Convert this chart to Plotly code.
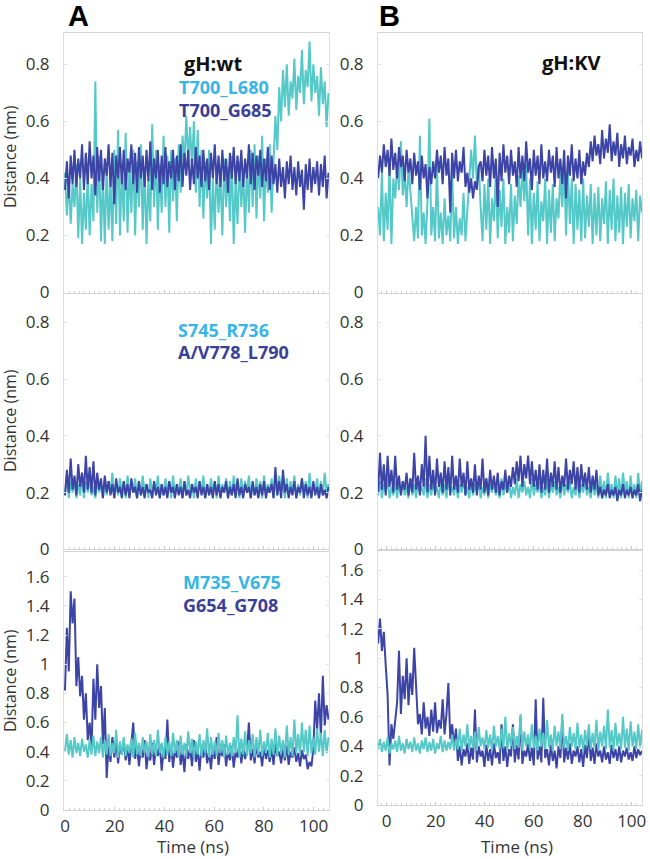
import plotly.graph_objects as go

W, H = 650, 859
# the page body normally keeps an 8px margin; the post script below removes it
OFF = 0

CYAN = '#55C8C8'
BLUE = '#3C44A6'
CYAN_TXT = '#35B6E6'
BLUE_TXT = '#3A3F99'

# simulation time window covered by the traces (ns)
T_A = (0.0, 106.0)
T_B = (-3.5, 104.2)

# ---- row 1: T700_L680 (cyan) / T700_G685 (blue)
a1_cyan = [0.42, 0.27, 0.40, 0.24, 0.38,
           0.30, 0.45, 0.19, 0.40, 0.17, 0.35, 0.22,
           0.42, 0.20, 0.38, 0.25,
           0.74, 0.28,
           0.48, 0.18, 0.42, 0.17, 0.45, 0.22, 0.40, 0.18, 0.50,
           0.24, 0.57, 0.20, 0.44, 0.25, 0.56, 0.21, 0.45,
           0.28, 0.50, 0.20, 0.46, 0.30, 0.52, 0.22, 0.44,
           0.17, 0.40, 0.25, 0.59, 0.30,
           0.50, 0.22, 0.45, 0.28, 0.55, 0.30, 0.48, 0.21, 0.50, 0.32, 0.47, 0.25, 0.52, 0.35,
           0.55, 0.45, 0.62, 0.46, 0.58, 0.44, 0.60,
           0.35, 0.57, 0.30, 0.50, 0.26, 0.46, 0.33, 0.50,
           0.17, 0.40, 0.22, 0.45, 0.28, 0.42, 0.20, 0.47, 0.30, 0.44, 0.25, 0.48, 0.17, 0.40,
           0.24, 0.46, 0.30, 0.43, 0.21, 0.45, 0.28, 0.50,
           0.30, 0.52, 0.26, 0.48, 0.33, 0.55, 0.25, 0.47, 0.35, 0.52, 0.28, 0.46,
           0.62, 0.50, 0.72,
           0.60, 0.78, 0.65, 0.80, 0.62, 0.74, 0.68, 0.82, 0.64, 0.76, 0.70, 0.85, 0.66, 0.78,
           0.72, 0.88, 0.67, 0.80, 0.70, 0.76, 0.62, 0.79, 0.66, 0.74, 0.58, 0.70]
a1_blue = [0.36, 0.46, 0.33, 0.48, 0.38, 0.50, 0.37, 0.47, 0.40, 0.52, 0.36,
           0.49, 0.38, 0.53, 0.40, 0.48, 0.34, 0.51, 0.39, 0.50, 0.36, 0.47, 0.41, 0.52, 0.37,
           0.49, 0.31, 0.48, 0.40, 0.51, 0.38,
           0.50, 0.36, 0.47, 0.42, 0.52, 0.38, 0.49, 0.35, 0.51, 0.40, 0.48, 0.37, 0.50, 0.39,
           0.53, 0.36, 0.47, 0.40, 0.50, 0.35,
           0.48, 0.38, 0.51, 0.37, 0.46, 0.40, 0.50, 0.36, 0.48, 0.39, 0.52, 0.37, 0.49, 0.41,
           0.50, 0.36, 0.47, 0.38, 0.51, 0.40,
           0.48, 0.37, 0.50, 0.39, 0.47, 0.36, 0.49, 0.40, 0.52, 0.38, 0.48, 0.37, 0.50, 0.39,
           0.47, 0.35, 0.49, 0.40, 0.51, 0.38,
           0.48, 0.39, 0.50, 0.37, 0.47, 0.40, 0.52, 0.38, 0.49, 0.36, 0.48, 0.41, 0.50, 0.37,
           0.47, 0.39, 0.51, 0.36, 0.48, 0.38,
           0.45, 0.35, 0.47, 0.37, 0.44, 0.33, 0.46, 0.38, 0.48, 0.36, 0.44, 0.34, 0.46, 0.37,
           0.43, 0.29, 0.45, 0.36, 0.47, 0.35, 0.44, 0.38, 0.46, 0.34, 0.45, 0.37, 0.48, 0.33, 0.42]
b1_cyan = [0.30, 0.20, 0.42, 0.18, 0.35, 0.22, 0.45, 0.17,
           0.40, 0.33, 0.45, 0.36, 0.53, 0.34, 0.42, 0.30, 0.44, 0.35,
           0.25, 0.18, 0.30, 0.19, 0.55, 0.20, 0.28, 0.17, 0.32, 0.61,
           0.20, 0.30, 0.18, 0.45, 0.19, 0.28, 0.17, 0.33, 0.20, 0.27, 0.18, 0.42, 0.19, 0.30,
           0.17, 0.26, 0.20, 0.35, 0.18, 0.29,
           0.42, 0.50, 0.40, 0.55, 0.38, 0.45, 0.30,
           0.18, 0.38, 0.22, 0.40, 0.17, 0.33, 0.25, 0.42, 0.19, 0.36, 0.23, 0.40, 0.17, 0.30,
           0.21, 0.38, 0.18, 0.34, 0.24, 0.41,
           0.30, 0.44, 0.32, 0.45, 0.20, 0.40, 0.17, 0.35, 0.22, 0.39, 0.18, 0.32, 0.25, 0.40,
           0.17, 0.36, 0.21, 0.38, 0.18, 0.33,
           0.26, 0.42, 0.30, 0.45, 0.20, 0.43, 0.24, 0.40, 0.17, 0.38, 0.22, 0.36, 0.18, 0.40,
           0.19, 0.34, 0.23, 0.38, 0.17, 0.35,
           0.20, 0.37, 0.18, 0.33, 0.24, 0.39, 0.17, 0.36, 0.22, 0.40, 0.18, 0.34, 0.21, 0.37,
           0.17, 0.35, 0.23, 0.38, 0.19, 0.33,
           0.25, 0.36, 0.18, 0.34, 0.28]
b1_blue = [0.40, 0.48, 0.42, 0.52, 0.44, 0.50, 0.41, 0.54, 0.43, 0.49, 0.40, 0.51, 0.44, 0.48,
           0.39, 0.50, 0.42, 0.47, 0.38, 0.49, 0.41, 0.46, 0.36, 0.48, 0.40, 0.45, 0.33, 0.44,
           0.38, 0.46,
           0.40, 0.50, 0.42, 0.48, 0.38, 0.51, 0.41, 0.47, 0.28, 0.49, 0.40, 0.50, 0.39, 0.46,
           0.42, 0.51, 0.37,
           0.42, 0.35, 0.40, 0.33, 0.39, 0.36, 0.44,
           0.46, 0.39, 0.50, 0.41, 0.48, 0.37, 0.51, 0.40, 0.47, 0.30, 0.49, 0.39, 0.52, 0.42,
           0.48, 0.38, 0.50, 0.41, 0.46, 0.37,
           0.51, 0.40, 0.48, 0.39, 0.53, 0.42, 0.47, 0.36, 0.50, 0.41, 0.48, 0.38, 0.52, 0.40,
           0.46, 0.39, 0.50, 0.42, 0.48, 0.37,
           0.51, 0.40, 0.47, 0.38, 0.50, 0.33, 0.48, 0.41, 0.52, 0.39, 0.47, 0.40, 0.50, 0.38,
           0.46, 0.41, 0.49,
           0.44, 0.53, 0.46, 0.55, 0.48, 0.52, 0.45, 0.57, 0.47, 0.54, 0.49, 0.59, 0.46, 0.53,
           0.48, 0.56, 0.44, 0.52, 0.47, 0.55, 0.45, 0.51, 0.48, 0.54, 0.44, 0.50, 0.46, 0.53, 0.47]

# ---- row 2: S745_R736 (cyan) / A/V778_L790 (blue)
a2_cyan = [0.19, 0.26, 0.18, 0.24, 0.20, 0.25, 0.18, 0.23, 0.19, 0.26, 0.18, 0.24, 0.20, 0.25,
           0.19, 0.22, 0.18, 0.24, 0.20, 0.23,
           0.18, 0.25, 0.19, 0.24, 0.20, 0.27, 0.18, 0.23, 0.19, 0.25, 0.20, 0.24, 0.18, 0.26,
           0.19, 0.23, 0.20, 0.25, 0.18, 0.24,
           0.19, 0.26, 0.20, 0.23, 0.18, 0.25, 0.19, 0.24, 0.20, 0.26, 0.18, 0.23, 0.19, 0.25,
           0.20, 0.24, 0.18, 0.26, 0.19, 0.23,
           0.20, 0.25, 0.18, 0.24, 0.19, 0.26, 0.20, 0.23, 0.18, 0.25, 0.19, 0.24, 0.20, 0.26,
           0.18, 0.23, 0.19, 0.25, 0.20, 0.24,
           0.18, 0.26, 0.19, 0.23, 0.20, 0.25, 0.18, 0.24, 0.19, 0.26, 0.20, 0.23, 0.18, 0.25,
           0.19, 0.24, 0.20, 0.26, 0.18, 0.23,
           0.19, 0.25, 0.20, 0.24, 0.18, 0.26, 0.19, 0.23, 0.20, 0.25, 0.18, 0.24, 0.19, 0.26,
           0.20, 0.23, 0.18, 0.25, 0.19, 0.24,
           0.20, 0.26, 0.18, 0.23, 0.19, 0.25, 0.20, 0.24, 0.18, 0.27, 0.19, 0.23, 0.20, 0.25,
           0.18, 0.24, 0.19, 0.27, 0.20, 0.23]
a2_blue = [0.19, 0.28, 0.20, 0.32, 0.21, 0.26, 0.19, 0.30, 0.22, 0.27, 0.20, 0.33, 0.21, 0.29,
           0.20, 0.31, 0.19, 0.27, 0.21, 0.25,
           0.18, 0.26, 0.20, 0.24, 0.19, 0.23, 0.18, 0.25, 0.20, 0.22, 0.18, 0.24, 0.19, 0.23,
           0.18, 0.25, 0.20, 0.22, 0.18, 0.24,
           0.19, 0.22, 0.18, 0.23, 0.20, 0.21, 0.18, 0.24, 0.19, 0.22, 0.18, 0.23, 0.19, 0.22,
           0.18, 0.24, 0.20, 0.22, 0.18, 0.23,
           0.19, 0.22, 0.18, 0.24, 0.19, 0.21, 0.18, 0.23, 0.20, 0.22, 0.18, 0.24, 0.19, 0.22,
           0.18, 0.23, 0.19, 0.22, 0.18, 0.24,
           0.19, 0.23, 0.18, 0.22, 0.20, 0.24, 0.18, 0.22, 0.19, 0.23, 0.18, 0.25, 0.19, 0.22,
           0.18, 0.23, 0.20, 0.22, 0.18, 0.24,
           0.19, 0.22, 0.18, 0.23, 0.19, 0.24, 0.18, 0.22, 0.20, 0.23, 0.18, 0.29, 0.19, 0.24,
           0.18, 0.28, 0.20, 0.23, 0.18, 0.22,
           0.19, 0.24, 0.18, 0.22, 0.20, 0.25, 0.18, 0.23, 0.19, 0.22, 0.18, 0.24, 0.19, 0.22,
           0.18, 0.23, 0.19, 0.21, 0.18, 0.22]
b2_cyan = [0.19, 0.24, 0.18, 0.23, 0.20, 0.25, 0.18, 0.22, 0.19, 0.24, 0.18, 0.23, 0.20, 0.24,
           0.19, 0.22, 0.18, 0.25, 0.19, 0.23,
           0.18, 0.24, 0.20, 0.22, 0.19, 0.25, 0.18, 0.23, 0.19, 0.24, 0.20, 0.22, 0.18, 0.24,
           0.19, 0.23, 0.18, 0.25, 0.20, 0.22,
           0.19, 0.24, 0.18, 0.23, 0.20, 0.25, 0.19, 0.22, 0.18, 0.24, 0.19, 0.23, 0.20, 0.24,
           0.18, 0.22, 0.19, 0.25, 0.18, 0.23,
           0.20, 0.24, 0.19, 0.22, 0.18, 0.25, 0.19, 0.23, 0.20, 0.24, 0.18, 0.22, 0.19, 0.25,
           0.18, 0.23, 0.20, 0.24, 0.19, 0.22,
           0.18, 0.25, 0.19, 0.23, 0.20, 0.24, 0.18, 0.22, 0.19, 0.25, 0.18, 0.23, 0.20, 0.24,
           0.19, 0.22, 0.18, 0.25, 0.19, 0.23,
           0.20, 0.24, 0.18, 0.22, 0.19, 0.25, 0.18, 0.23, 0.20, 0.24, 0.19, 0.22, 0.18, 0.24,
           0.19, 0.23,
           0.18, 0.26, 0.19, 0.24, 0.18, 0.27, 0.20, 0.23, 0.18, 0.26, 0.19, 0.25, 0.18, 0.27,
           0.20, 0.24, 0.18, 0.26, 0.19, 0.23, 0.18, 0.27, 0.19, 0.24]
b2_blue = [0.20, 0.34, 0.21, 0.30, 0.19, 0.33, 0.22, 0.28, 0.20, 0.33, 0.21, 0.26, 0.19, 0.24,
           0.21, 0.27, 0.19, 0.25, 0.20, 0.34, 0.21, 0.26, 0.19, 0.30, 0.22,
           0.40,
           0.20, 0.33, 0.21, 0.28, 0.19, 0.32, 0.22, 0.27, 0.20, 0.31, 0.21, 0.29, 0.19, 0.33,
           0.21, 0.26, 0.20, 0.32, 0.22, 0.27,
           0.19, 0.31, 0.21, 0.25, 0.20, 0.30, 0.19, 0.26, 0.21, 0.32, 0.20, 0.25, 0.19, 0.28,
           0.21, 0.26, 0.20, 0.27, 0.19, 0.24,
           0.21, 0.28, 0.20, 0.26,
           0.22, 0.29, 0.23, 0.31, 0.24, 0.33, 0.22, 0.30, 0.25, 0.33, 0.23, 0.31, 0.22, 0.28,
           0.21, 0.30,
           0.20, 0.28, 0.21, 0.32, 0.20, 0.27, 0.22, 0.31, 0.21, 0.29, 0.20, 0.26, 0.22, 0.32,
           0.21, 0.28, 0.23, 0.31, 0.21, 0.29, 0.20, 0.30, 0.22, 0.27, 0.21, 0.29, 0.20, 0.26,
           0.21, 0.28,
           0.19, 0.22, 0.18, 0.21, 0.19, 0.23, 0.18, 0.21, 0.19, 0.22, 0.17, 0.21, 0.19, 0.23,
           0.18, 0.21, 0.19, 0.22, 0.18, 0.21, 0.19, 0.23, 0.17, 0.21]

# ---- row 3: M735_V675 (cyan) / G654_G708 (blue)
a3_cyan = [0.40, 0.52, 0.38, 0.48, 0.36, 0.50, 0.39, 0.46, 0.37, 0.49, 0.40, 0.45, 0.36, 0.48,
           0.38, 0.51, 0.37, 0.47, 0.39, 0.50,
           0.36, 0.48, 0.38, 0.52, 0.37, 0.46, 0.39, 0.55, 0.36, 0.47, 0.38, 0.50, 0.37, 0.45,
           0.39, 0.49, 0.36, 0.53, 0.38, 0.46,
           0.37, 0.50, 0.39, 0.47, 0.36, 0.52, 0.38, 0.48, 0.37, 0.55, 0.39, 0.46, 0.36, 0.50,
           0.38, 0.47, 0.37, 0.53, 0.39, 0.48,
           0.36, 0.51, 0.38, 0.46, 0.37, 0.54, 0.39, 0.49, 0.36, 0.47, 0.38, 0.52, 0.37, 0.48,
           0.39, 0.56, 0.36, 0.50, 0.38, 0.47,
           0.37, 0.53, 0.39, 0.48, 0.36, 0.51, 0.38, 0.46, 0.37, 0.50, 0.39, 0.65, 0.36, 0.49,
           0.38, 0.54, 0.37, 0.48, 0.39, 0.52,
           0.36, 0.50, 0.38, 0.55, 0.37, 0.47, 0.39, 0.53, 0.36, 0.49, 0.38, 0.56, 0.37, 0.51,
           0.39, 0.48, 0.36, 0.58, 0.38, 0.50,
           0.37, 0.62, 0.39, 0.52, 0.38, 0.60, 0.40, 0.55, 0.37, 0.58, 0.39, 0.50, 0.38, 0.56,
           0.40, 0.53, 0.37, 0.55, 0.39, 0.50]
a3_blue = [0.82,
           1.25, 0.95, 1.50, 1.28,
           1.45,
           0.85, 1.05, 0.78,
           0.92, 0.62, 0.80,
           0.48, 0.60, 0.42,
           0.90, 0.62, 1.00,
           0.70, 0.85, 0.45,
           0.70, 0.22,
           0.45, 0.33, 0.50, 0.36, 0.47, 0.32, 0.44, 0.38, 0.48, 0.34, 0.43, 0.31, 0.46,
           0.60, 0.35,
           0.44, 0.30, 0.42, 0.36, 0.48, 0.28, 0.40, 0.34, 0.46, 0.31, 0.43, 0.37, 0.45, 0.27,
           0.41, 0.35,
           0.62, 0.33,
           0.44, 0.29, 0.42, 0.36, 0.47, 0.31, 0.40, 0.26, 0.45, 0.35, 0.43, 0.30, 0.48, 0.33,
           0.41, 0.27, 0.44, 0.36, 0.46, 0.32, 0.40, 0.28, 0.43, 0.35, 0.50, 0.31, 0.42, 0.37,
           0.45, 0.30, 0.41, 0.34, 0.44, 0.29, 0.40, 0.36, 0.46, 0.32, 0.43, 0.35, 0.41,
           0.60, 0.34,
           0.42, 0.32, 0.45, 0.36, 0.40, 0.30, 0.44, 0.35, 0.41, 0.33, 0.43, 0.31, 0.45, 0.37,
           0.40, 0.32, 0.42, 0.34, 0.44, 0.31, 0.40, 0.36, 0.43, 0.33, 0.39, 0.30, 0.41, 0.35,
           0.38, 0.28, 0.33,
           0.30, 0.42, 0.75, 0.55, 0.80, 0.50, 0.92, 0.58, 0.72, 0.62]
b3_cyan = [0.38, 0.45, 0.36, 0.43, 0.37, 0.46, 0.35, 0.42, 0.38, 0.44, 0.36, 0.47, 0.37, 0.42,
           0.35, 0.45, 0.38, 0.43, 0.36, 0.46, 0.37, 0.42, 0.35, 0.44, 0.38, 0.46, 0.36, 0.43,
           0.37, 0.45, 0.35, 0.42, 0.38, 0.47, 0.36, 0.44, 0.37, 0.43, 0.38, 0.48, 0.37,
           0.45, 0.38, 0.52, 0.37, 0.48, 0.40, 0.55, 0.38, 0.47, 0.39, 0.50, 0.37, 0.53, 0.40,
           0.46, 0.38, 0.51, 0.39, 0.48, 0.37,
           0.54, 0.40, 0.47, 0.38, 0.52, 0.39, 0.60, 0.37, 0.49, 0.40, 0.53, 0.38, 0.47, 0.39,
           0.62, 0.37, 0.50, 0.40, 0.48, 0.38,
           0.55, 0.39, 0.47, 0.37, 0.52, 0.40, 0.49, 0.38, 0.58, 0.39, 0.48, 0.37, 0.54, 0.40,
           0.50, 0.38, 0.62, 0.39, 0.47, 0.37,
           0.53, 0.40, 0.49, 0.38, 0.56, 0.39, 0.48, 0.37, 0.51, 0.40, 0.55, 0.38, 0.49, 0.39,
           0.58, 0.37, 0.50, 0.40, 0.54, 0.38,
           0.65, 0.39, 0.51, 0.37, 0.56, 0.40, 0.49, 0.38, 0.60, 0.39, 0.52, 0.37, 0.57, 0.40,
           0.50, 0.38, 0.55, 0.39, 0.51]
b3_blue = [1.10, 1.27, 1.05, 1.18, 0.95,
           0.75, 0.27, 0.55,
           0.45, 0.60,
           0.70, 1.05, 0.62, 0.88, 0.72, 1.00, 0.68, 0.90, 0.75, 1.07,
           0.85, 0.55,
           0.62, 0.48, 0.70, 0.52, 0.60, 0.47, 0.65, 0.50, 0.70, 0.49, 0.58, 0.52, 0.72, 0.48,
           0.62, 0.83, 0.45,
           0.55, 0.40, 0.52,
           0.30, 0.40, 0.27, 0.38, 0.33, 0.42, 0.28, 0.39, 0.31, 0.65, 0.29, 0.40, 0.33, 0.37,
           0.26, 0.41, 0.30, 0.38, 0.27, 0.42,
           0.32, 0.36, 0.28, 0.55, 0.30, 0.40, 0.26, 0.38, 0.33, 0.55, 0.29, 0.41, 0.31, 0.60,
           0.28, 0.37, 0.33, 0.42, 0.30, 0.39,
           0.27, 0.72, 0.31, 0.40, 0.29, 0.73, 0.32, 0.38, 0.27, 0.41, 0.30, 0.37, 0.25, 0.40,
           0.32, 0.58, 0.29, 0.39, 0.31, 0.42,
           0.28, 0.37, 0.33, 0.40, 0.29, 0.38, 0.26, 0.41, 0.32, 0.50, 0.30, 0.39, 0.28, 0.42,
           0.33, 0.37, 0.29, 0.40, 0.31, 0.36,
           0.28, 0.41, 0.32, 0.38, 0.30, 0.40, 0.29, 0.37, 0.33, 0.39, 0.31, 0.36, 0.30, 0.40,
           0.32, 0.38, 0.34, 0.37]

X_TICKS = [0, 20, 40, 60, 80, 100]
Y_TICKS_SMALL = [0, 0.2, 0.4, 0.6, 0.8]
Y_TICKS_BIG = [0, 0.2, 0.4, 0.6, 0.8, 1, 1.2, 1.4, 1.6]

PAIR_LABELS = [('T700_L680', 'T700_G685'), ('S745_R736', 'A/V778_L790'), ('M735_V675', 'G654_G708')]


def times(span, n):
    t0, t1 = span
    return [t0 + i * (t1 - t0) / (n - 1) for i in range(n)]


def px_x(px):
    return (px - OFF) / (W - OFF)


def px_y(py):
    return 1 - (py - OFF) / (H - OFF)


# panel boxes in page pixels: (left, right, top, bottom)
panels = [
    dict(box=(64, 329, 33, 292.5), xr=[-0.4, 106.2], yr=[0, 0.91], yt=Y_TICKS_SMALL,
         data=(a1_cyan, a1_blue), span=T_A, cyan_top=False, xlab=False),
    dict(box=(378, 642, 33, 292.5), xr=[-3.55, 104.2], yr=[0, 0.91], yt=Y_TICKS_SMALL,
         data=(b1_cyan, b1_blue), span=T_B, cyan_top=False, xlab=False),
    dict(box=(64, 329, 294, 549.3), xr=[-0.4, 106.2], yr=[0, 0.9], yt=Y_TICKS_SMALL,
         data=(a2_cyan, a2_blue), span=T_A, cyan_top=False, xlab=False),
    dict(box=(378, 642, 294, 549.3), xr=[-3.55, 104.2], yr=[0, 0.9], yt=Y_TICKS_SMALL,
         data=(b2_cyan, b2_blue), span=T_B, cyan_top=False, xlab=False),
    dict(box=(64, 329, 552, 810), xr=[-0.4, 106.2], yr=[0, 1.77], yt=Y_TICKS_BIG,
         data=(a3_cyan, a3_blue), span=T_A, cyan_top=True, xlab=True),
    dict(box=(378, 642, 551, 805), xr=[-3.55, 104.2], yr=[0, 1.73], yt=Y_TICKS_BIG,
         data=(b3_cyan, b3_blue), span=T_B, cyan_top=True, xlab=True),
]

fig = go.Figure()
layout = {}
tick_font = dict(family='Open Sans, sans-serif', size=17, color='#333333')
LINE_W = 2.0

for k, p in enumerate(panels, start=1):
    left, right, top, bottom = p['box']
    xa = 'x' if k == 1 else f'x{k}'
    ya = 'y' if k == 1 else f'y{k}'
    cyan_vals, blue_vals = p['data']
    cyan_tr = go.Scatter(x=times(p['span'], len(cyan_vals)), y=cyan_vals, mode='lines',
                         line=dict(color=CYAN, width=LINE_W), xaxis=xa, yaxis=ya,
                         showlegend=False, hoverinfo='skip')
    blue_tr = go.Scatter(x=times(p['span'], len(blue_vals)), y=blue_vals, mode='lines',
                         line=dict(color=BLUE, width=LINE_W), xaxis=xa, yaxis=ya,
                         showlegend=False, hoverinfo='skip')
    order = [blue_tr, cyan_tr] if p['cyan_top'] else [cyan_tr, blue_tr]
    for tr in order:
        fig.add_trace(tr)

    xkey = 'xaxis' if k == 1 else f'xaxis{k}'
    ykey = 'yaxis' if k == 1 else f'yaxis{k}'
    layout[xkey] = dict(
        domain=[px_x(left), min(px_x(right), 1)], anchor=ya, range=p['xr'],
        tickvals=X_TICKS, showticklabels=p['xlab'], tickfont=tick_font,
        ticklabelstandoff=1, showgrid=False, zeroline=False, automargin=False,
        showline=True, linecolor='#d4d4d4', linewidth=1, mirror=True,
        ticks='inside', ticklen=3, tickcolor='#c8c8c8',
        minor=dict(dtick=2, ticks='inside', ticklen=2, tickcolor='#d0d0d0'),
        fixedrange=True,
    )
    layout[ykey] = dict(
        domain=[px_y(bottom), px_y(top)], anchor=xa, range=p['yr'],
        tickvals=p['yt'], ticktext=[f'{v:g}' for v in p['yt']], tickfont=tick_font,
        ticklabelstandoff=10, showgrid=False, zeroline=False, automargin=False,
        showline=True, linecolor='#dcdcdc', linewidth=1, mirror='allticks',
        ticks='inside', ticklen=3, tickcolor='#e2e2e2',
        fixedrange=True,
    )

annotations = []
label_font = 'Open Sans, sans-serif'


def note(text, x, y, size, color, xanchor='left', bold=True, angle=0, family=label_font):
    annotations.append(dict(
        text=f'<b>{text}</b>' if bold else text, x=px_x(x), y=px_y(y),
        xref='paper', yref='paper', xanchor=xanchor, yanchor='middle',
        showarrow=False, textangle=angle,
        font=dict(family=family, size=size, color=color),
    ))


note('A', 66, 16, 29, '#000000', family='Liberation Sans, Arial, sans-serif')
note('B', 377, 16, 29, '#000000', family='Liberation Sans, Arial, sans-serif')
note('gH:wt', 213, 63, 20, '#111111', xanchor='center')
note('gH:KV', 571, 62, 20, '#111111', xanchor='center')

label_rows = [(87, 110, 177), (330, 352, 176), (582, 605, 181)]
for (cy, by, lx), (cname, bname) in zip(label_rows, PAIR_LABELS):
    note(cname, lx, cy, 18, CYAN_TXT)
    note(bname, lx, by, 18, BLUE_TXT)

for mid in (157, 421, 681):
    note('Distance (nm)', 10, mid, 16, '#333333', xanchor='center', bold=False, angle=-90)
note('Time (ns)', 193, 846, 17, '#333333', xanchor='center', bold=False)
note('Time (ns)', 517, 846, 17, '#333333', xanchor='center', bold=False)

fig.update_layout(
    width=W, height=H,
    margin=dict(l=0, r=0, t=0, b=0),
    paper_bgcolor='white', plot_bgcolor='white',
    font=dict(family=label_font, color='#333333'),
    annotations=annotations,
    **layout,
)

fig.write_html('out.html', config={'displayModeBar': False},
               post_script="document.body.style.margin='0';")
